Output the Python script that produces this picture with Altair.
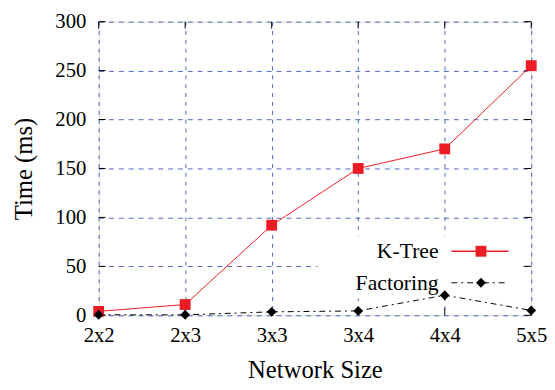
import altair as alt
import pandas as pd

# ---- data ----
sizes = ["2x2", "2x3", "3x3", "3x4", "4x4", "5x5"]
ktree = [4, 11, 92, 150, 170, 255]
factoring = [0.5, 0.5, 3.5, 4.5, 20.5, 5]
series_names = ["K-Tree", "Factoring"]
y_ticks = [0, 50, 100, 150, 200, 250, 300]

W, H = 439, 298
FONT = "Liberation Serif"
RED = "#ed1c24"
GRID = "#3a58b8"
DASHDOT = [6, 4, 2, 4]

df_k = pd.DataFrame({"size": sizes, "time": ktree})
df_f = pd.DataFrame({"size": sizes, "time": factoring})
df_sizes = pd.DataFrame({"size": sizes})
df_yt = pd.DataFrame({"time": y_ticks})
one = pd.DataFrame({"a": [0]})

x_axis = alt.Axis(
    title="Network Size", labelFont=FONT, labelFontSize=21, labelColor="black",
    labelAngle=0, labelPadding=10, ticks=False, domain=False,
    grid=True, gridDash=[4, 5], gridColor=GRID, gridWidth=1, gridOpacity=0.9,
    titleFont=FONT, titleFontSize=25, titleFontWeight="normal", titleColor="black",
    titleY=55, titleBaseline="middle",
)
y_axis = alt.Axis(
    title="Time (ms)", values=y_ticks, labelFont=FONT, labelFontSize=21,
    labelColor="black", labelPadding=13, ticks=False, domain=False,
    grid=True, gridDash=[5, 5], gridColor=GRID, gridWidth=1, gridOpacity=0.9,
    titleFont=FONT, titleFontSize=25, titleFontWeight="normal", titleColor="black",
    titleX=-76, titleY=H / 2, titleBaseline="middle",
)
x_sc = alt.Scale(type="point", domain=sizes, padding=0)
y_sc = alt.Scale(domain=[0, 300], nice=False)

X = alt.X("size:N", sort=sizes, scale=x_sc, axis=x_axis)
Y = alt.Y("time:Q", scale=y_sc, axis=y_axis)

# white legend box hiding the grid
box = alt.Chart(one).mark_rect(color="white").encode(
    x=alt.value(222), x2=alt.value(431), y=alt.value(217), y2=alt.value(281)
)

# inward ticks (gnuplot style) on all four sides
tick_b = alt.Chart(df_sizes).mark_rule(color="black", strokeWidth=1).encode(
    x=X, y=alt.value(H), y2=alt.value(H - 7))
tick_t = alt.Chart(df_sizes).mark_rule(color="black", strokeWidth=1).encode(
    x=X, y=alt.value(0), y2=alt.value(7))
tick_l = alt.Chart(df_yt).mark_rule(color="black", strokeWidth=1).encode(
    y=Y, x=alt.value(0), x2=alt.value(7))
tick_r = alt.Chart(df_yt).mark_rule(color="black", strokeWidth=1).encode(
    y=Y, x=alt.value(W - 7), x2=alt.value(W))

k_line = alt.Chart(df_k).mark_line(color=RED, strokeWidth=1).encode(x=X, y=Y)
k_pts = alt.Chart(df_k).mark_point(shape="square", filled=True, size=121,
                                   color=RED, opacity=1).encode(x=X, y=Y)
f_line = alt.Chart(df_f).mark_line(color="black", strokeWidth=1,
                                   strokeDash=DASHDOT).encode(x=X, y=Y)
f_pts = alt.Chart(df_f).mark_point(shape="diamond", filled=True, size=100,
                                   color="black", opacity=1).encode(x=X, y=Y)

# legend
def legend_item(name, ypix, color, dash, shape, size):
    txt = alt.Chart(one).mark_text(font=FONT, fontSize=22, align="right",
                                   baseline="middle", color="black").encode(
        x=alt.value(345), y=alt.value(ypix), text=alt.value(name))
    rule_kw = dict(color=color, strokeWidth=1.5 if dash is None else 1)
    if dash is not None:
        rule_kw["strokeDash"] = dash
    ln = alt.Chart(one).mark_rule(**rule_kw).encode(
        x=alt.value(358), x2=alt.value(416), y=alt.value(ypix))
    sym = alt.Chart(one).mark_point(shape=shape, filled=True, size=size,
                                    color=color, opacity=1).encode(
        x=alt.value(388), y=alt.value(ypix))
    return [txt, ln, sym]

leg = legend_item(series_names[0], 233, RED, None, "square", 121) + \
      legend_item(series_names[1], 265, "black", DASHDOT, "diamond", 100)

chart = alt.layer(
    box, tick_b, tick_t, tick_l, tick_r, k_line, f_line, k_pts, f_pts, *leg
).properties(
    width=W, height=H,
    autosize=alt.AutoSizeParams(type="none"),
    padding={"left": 92, "top": 11, "right": 16, "bottom": 75},
).configure_view(
    stroke="black", strokeWidth=1.5
).configure(background="white")

chart.save("out.html", embed_options={"renderer": "svg", "actions": False})
